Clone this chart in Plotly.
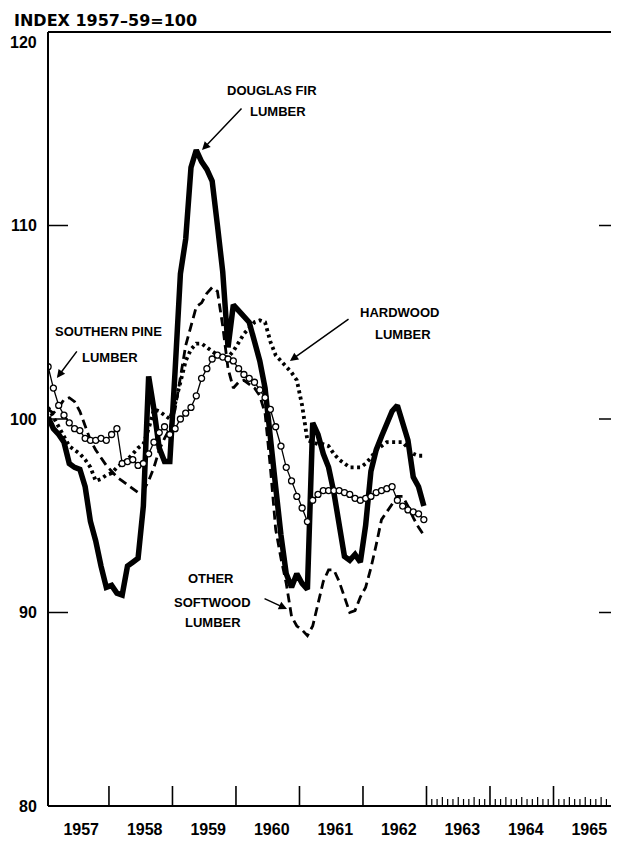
import plotly.graph_objects as go

# ---------------- data (monthly, Jan 1957 - Dec 1962) ----------------
start_year = 1957
months = 72

douglas_fir = [100.1, 99.5, 99.2, 98.8, 97.7, 97.5, 97.4, 96.5, 94.7, 93.7,
               92.4, 91.3, 91.4, 91.0, 90.9, 92.4, 92.6, 92.8, 95.5, 102.2,
               100.5, 98.5, 97.8, 97.8, 102.5, 107.5, 109.3, 113.0, 113.9, 113.3,
               112.9, 112.3, 110.0, 107.6, 103.7, 105.9, 105.6, 105.3, 105.0, 104.0,
               103.0, 101.6, 99.3, 96.5, 94.0, 92.0, 91.3, 92.0, 91.5, 91.2,
               99.8, 99.2, 98.2, 97.5, 96.2, 94.6, 92.9, 92.7, 93.0, 92.6,
               94.5, 97.3, 98.4, 99.1, 99.8, 100.4, 100.7, 99.8, 98.9, 97.0, 96.5, 95.5]

hardwood = [100.6, 100.1, 99.6, 99.1, 98.6, 98.4, 98.2, 97.9, 97.5, 96.8,
            96.9, 97.1, 97.2, 97.5, 97.7, 97.9, 98.2, 98.5, 98.7, 99.5,
            100.5, 100.4, 100.2, 100.0, 100.8, 102.0, 103.0, 103.6, 103.9, 103.9,
            103.7, 103.5, 103.3, 103.2, 103.2, 103.5, 104.0, 104.4, 104.7, 105.0,
            105.1, 105.0, 104.0, 103.3, 103.0, 102.7, 102.4, 102.0, 100.7, 98.9,
            98.8, 98.7, 98.7, 98.6, 98.2, 97.9, 97.7, 97.5, 97.5, 97.5,
            97.7, 98.0, 98.4, 98.6, 98.8, 98.8, 98.8, 98.8, 98.5, 98.2, 98.1, 98.1]

southern_pine = [102.7, 101.6, 100.7, 100.2, 99.8, 99.5, 99.4, 99.0, 98.9, 98.9,
                 99.0, 98.9, 99.2, 99.5, 97.7, 97.8, 97.9, 97.6, 97.7, 98.2,
                 98.8, 99.3, 99.6, 99.2, 99.5, 100.0, 100.3, 100.6, 101.2, 102.1,
                 102.6, 103.1, 103.3, 103.2, 103.1, 103.0, 102.6, 102.3, 102.1, 101.9,
                 101.5, 101.1, 100.5, 99.6, 98.6, 97.5, 96.8, 96.0, 95.4, 94.7,
                 95.8, 96.1, 96.3, 96.3, 96.3, 96.3, 96.2, 96.1, 95.9, 95.8,
                 95.9, 96.0, 96.2, 96.3, 96.4, 96.5, 95.8, 95.5, 95.3, 95.2, 95.1, 94.8]

other_softwood = [100.5, 100.3, 100.6, 101.0, 101.1, 100.9, 100.4, 99.6, 98.9, 98.4,
                  98.0, 97.6, 97.3, 97.0, 96.8, 96.6, 96.4, 96.2, 96.3, 96.8,
                  97.5, 98.4, 99.0, 99.5, 100.5, 102.2, 103.8, 104.8, 105.8, 106.0,
                  106.5, 106.8, 106.6, 104.8, 102.6, 101.6, 101.9, 102.0, 101.8, 101.6,
                  101.2, 100.3, 97.5, 94.3, 92.8, 91.5, 89.8, 89.3, 89.1, 88.8,
                  89.3, 90.4, 91.6, 92.2, 92.2, 91.6, 90.8, 90.0, 90.1, 90.8,
                  91.3, 92.3, 93.5, 94.8, 95.2, 95.6, 96.0, 96.0, 95.5, 94.9, 94.4, 94.0]

year_labels = ["1957", "1958", "1959", "1960", "1961", "1962", "1963", "1964", "1965"]
y_tick_values = [80, 90, 100, 110, 120]

x = [start_year + (i + 0.5) / 12 for i in range(months)]

X0, X1 = 1957.04, 1966.0
Y0, Y1 = 80, 120

# page body has an 8px margin, so the figure is 8px smaller than the window
W, H = 611, 833
ML, MR, MT, MB = 40, 2, 24, 35
PW = W - ML - MR
PH = H - MT - MB

fig = go.Figure()
fig.add_trace(go.Scatter(x=x, y=other_softwood, mode="lines",
                         line=dict(color="black", width=2.8, dash="9px,5px")))
fig.add_trace(go.Scatter(x=x, y=hardwood, mode="lines",
                         line=dict(color="black", width=3.8, dash="3px,3.5px")))
fig.add_trace(go.Scatter(x=x, y=douglas_fir, mode="lines",
                         line=dict(color="black", width=5.5)))
fig.add_trace(go.Scatter(x=x, y=southern_pine, mode="lines+markers",
                         line=dict(color="black", width=1.3),
                         marker=dict(symbol="circle", size=6, color="white",
                                     line=dict(color="black", width=1.3))))

BOLD = dict(family="Liberation Sans, Arial, sans-serif", color="black", weight="bold")

shapes = []
lw = 2
# frame
shapes.append(dict(type="line", xref="paper", yref="paper", x0=0, x1=0, y0=0, y1=1, line=dict(color="black", width=lw)))
shapes.append(dict(type="line", xref="paper", yref="paper", x0=0, x1=1, y0=0, y1=0, line=dict(color="black", width=lw)))
shapes.append(dict(type="line", xref="paper", yref="paper", x0=0, x1=1, y0=1, y1=1, line=dict(color="black", width=lw)))
shapes.append(dict(type="line", xref="paper", yref="y", x0=1, x1=1, y0=Y0, y1=110, line=dict(color="black", width=lw)))
# inward y ticks
for v in [90, 100, 110]:
    shapes.append(dict(type="line", xref="paper", yref="y", x0=0, x1=20 / PW, y0=v, y1=v, line=dict(color="black", width=1.5)))
    shapes.append(dict(type="line", xref="paper", yref="y", x0=1 - 18 / PW, x1=1, y0=v, y1=v, line=dict(color="black", width=1.5)))
# year ticks
for yr in range(1958, 1966):
    shapes.append(dict(type="line", xref="x", yref="paper", x0=yr, x1=yr, y0=0, y1=20 / PH, line=dict(color="black", width=1.6)))
# monthly ticks 1963-1965
for yr in range(1963, 1966):
    for m in range(1, 12):
        t = yr + m / 12
        h = 9 if m in (3, 6, 9) else 7
        shapes.append(dict(type="line", xref="x", yref="paper", x0=t, x1=t, y0=0, y1=h / PH, line=dict(color="black", width=1.2)))

annotations = []
# y labels
for v in y_tick_values:
    annotations.append(dict(text=str(v), xref="paper", yref="y", x=0, y=v, xanchor="right", yanchor="middle",
                            xshift=-9, yshift=(-10 if v == 120 else 0), showarrow=False, font=dict(size=16, **BOLD)))
# title
annotations.append(dict(text="INDEX 1957–59=100", xref="paper", yref="paper", x=0, y=1, xanchor="left", yanchor="middle",
                        xshift=-36, yshift=12, showarrow=False,
                        font=dict(size=16, family="DejaVu Sans, sans-serif", color="black", weight="bold")))

labels = [
    ("DOUGLAS FIR", 1960.567, 117.0), ("LUMBER", 1960.66, 115.87),
    ("HARDWOOD", 1962.568, 105.48), ("LUMBER", 1962.63, 104.39),
    ("SOUTHERN PINE", 1958.0, 104.5), ("LUMBER", 1958.016, 103.2),
    ("OTHER", 1959.607, 91.78), ("SOFTWOOD", 1959.623, 90.54), ("LUMBER", 1959.64, 89.46),
]
for txt, lx, ly in labels:
    annotations.append(dict(text=txt, x=lx, y=ly, xref="x", yref="y", showarrow=False,
                            xanchor="center", yanchor="middle", font=dict(size=13, **BOLD)))

arrows = [
    ((1960.11, 116.12), (1959.465, 113.9)),
    ((1961.796, 105.22), (1960.85, 103.0)),
    ((1957.512, 103.57), (1957.18, 102.12)),
    ((1960.426, 90.75), (1960.804, 90.18)),
]
for (tx, ty), (hx, hy) in arrows:
    annotations.append(dict(text="", x=hx, y=hy, xref="x", yref="y", ax=tx, ay=ty, axref="x", ayref="y",
                            showarrow=True, arrowhead=2, arrowsize=1.1, arrowwidth=1.5, arrowcolor="black"))

fig.update_layout(
    width=W, height=H,
    margin=dict(l=ML, r=MR, t=MT, b=MB),
    paper_bgcolor="white", plot_bgcolor="white",
    showlegend=False,
    shapes=shapes, annotations=annotations,
    xaxis=dict(range=[X0, X1], showgrid=False, zeroline=False, showline=False,
               tickvals=[1957.5 + k for k in range(len(year_labels))], ticktext=year_labels,
               ticks="", ticklabelstandoff=12, ticklabelshift=4, tickfont=dict(size=16, **BOLD)),
    yaxis=dict(range=[Y0, Y1], showgrid=False, zeroline=False, showline=False,
               showticklabels=False, ticks=""),
)

fig.write_html("out.html")
